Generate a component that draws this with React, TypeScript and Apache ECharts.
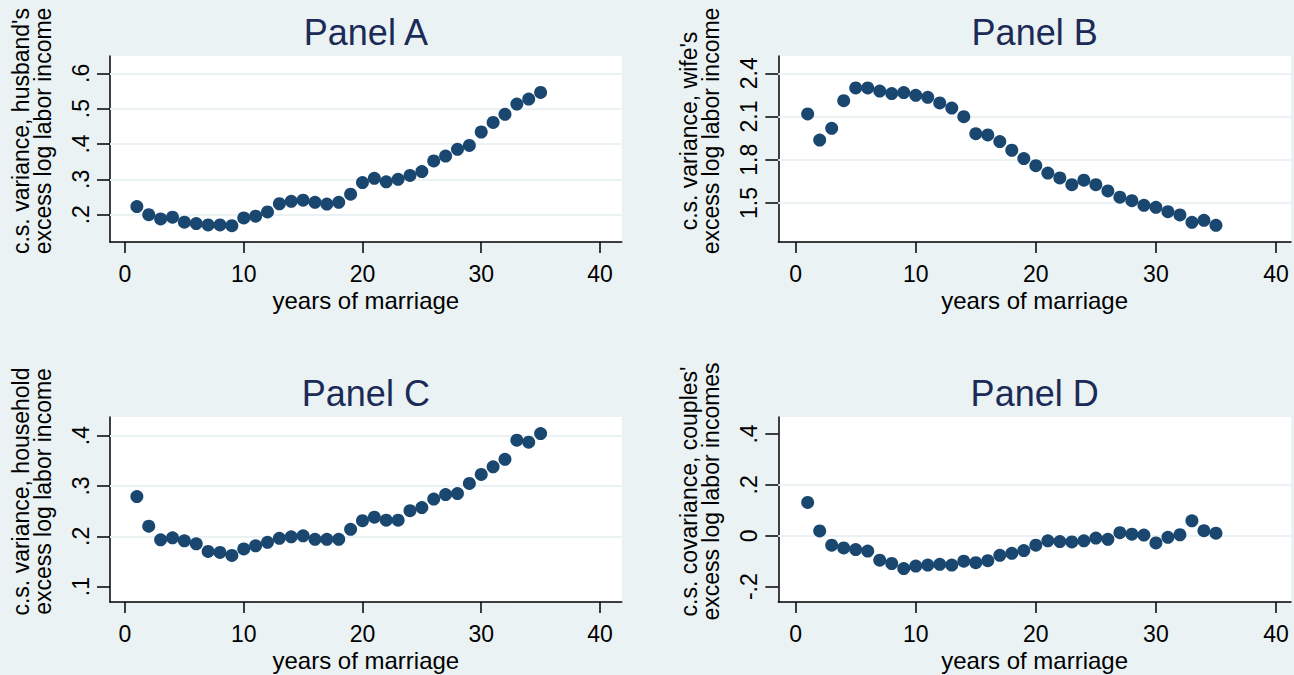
import React, { useEffect, useRef } from 'react';
import * as echarts from 'echarts';

const years = [1, 2, 3, 4, 5, 6, 7, 8, 9, 10, 11, 12, 13, 14, 15, 16, 17, 18, 19, 20, 21, 22, 23, 24, 25, 26, 27, 28, 29, 30, 31, 32, 33, 34, 35];

const husbandVar = [0.223, 0.2, 0.188, 0.193, 0.179, 0.175, 0.171, 0.171, 0.169, 0.191, 0.196, 0.208, 0.231, 0.238, 0.241, 0.235, 0.23, 0.235, 0.258, 0.291, 0.303, 0.293, 0.3, 0.311, 0.322, 0.352, 0.366, 0.385, 0.396, 0.434, 0.461, 0.484, 0.513, 0.527, 0.546];
const wifeVar = [2.118, 1.937, 2.018, 2.21, 2.298, 2.298, 2.277, 2.259, 2.266, 2.247, 2.233, 2.194, 2.159, 2.099, 1.981, 1.972, 1.926, 1.866, 1.808, 1.759, 1.708, 1.674, 1.627, 1.658, 1.627, 1.584, 1.54, 1.516, 1.484, 1.47, 1.44, 1.417, 1.366, 1.38, 1.345];
const householdVar = [0.279, 0.22, 0.193, 0.197, 0.191, 0.185, 0.17, 0.168, 0.162, 0.175, 0.181, 0.188, 0.196, 0.199, 0.201, 0.194, 0.194, 0.194, 0.214, 0.231, 0.238, 0.232, 0.232, 0.251, 0.257, 0.274, 0.283, 0.285, 0.305, 0.323, 0.338, 0.353, 0.391, 0.387, 0.404];
const couplesCov = [0.131, 0.019, -0.037, -0.048, -0.054, -0.06, -0.096, -0.109, -0.129, -0.119, -0.115, -0.112, -0.115, -0.1, -0.106, -0.098, -0.077, -0.069, -0.058, -0.037, -0.02, -0.023, -0.024, -0.02, -0.009, -0.014, 0.012, 0.006, 0.003, -0.028, -0.006, 0.004, 0.059, 0.02, 0.01];

const xTicks = [0, 10, 20, 30, 40];
const xTickLabels = ['0', '10', '20', '30', '40'];

const yTicksA = [0.2, 0.3, 0.4, 0.5, 0.6];
const yLabelsA = ['.2', '.3', '.4', '.5', '.6'];
const yGridA = [0.2, 0.3, 0.4, 0.5, 0.6];

const yTicksB = [1.5, 1.8, 2.1, 2.4];
const yLabelsB = ['1.5', '1.8', '2.1', '2.4'];
const yGridB = [1.5, 1.8, 2.1, 2.4];

const yTicksC = [0.1, 0.2, 0.3, 0.4];
const yLabelsC = ['.1', '.2', '.3', '.4'];
const yGridC = [0.2, 0.3, 0.4];

const yTicksD = [-0.2, 0, 0.2, 0.4];
const yLabelsD = ['-.2', '0', '.2', '.4'];
const yGridD = [0, 0.2];

const titles = ['Panel A', 'Panel B', 'Panel C', 'Panel D'];
const yNames = [
  "c.s. variance, husband's\nexcess log labor income",
  "c.s. variance, wife's\nexcess log labor income",
  'c.s. variance, household\nexcess log labor income',
  "c.s. covariance, couples'\nexcess log labor incomes",
];
const xName = 'years of marriage';

const FONT = '"Liberation Sans", Arial, Helvetica, sans-serif';
const BG = '#EAF2F3';
const MARKER = '#1A476F';
const TITLE_COLOR = '#1B2A57';

export default function App() {
  const ref = useRef<HTMLDivElement>(null);

  useEffect(() => {
    if (!ref.current) return;
    const chart = echarts.init(ref.current, null, { renderer: 'svg' });

    const panels = [
      { values: husbandVar, yTicks: yTicksA, yLabels: yLabelsA, yGrid: yGridA, yMin: 0.1228, yMax: 0.649, xMin: -1.263, xMax: 41.83, left: 110, top: 56, width: 511.7, height: 186 },
      { values: wifeVar, yTicks: yTicksB, yLabels: yLabelsB, yGrid: yGridB, yMin: 1.2293, yMax: 2.52, xMin: -1.446, xMax: 41.25, left: 778.3, top: 56, width: 512.7, height: 186 },
      { values: householdVar, yTicks: yTicksC, yLabels: yLabelsC, yGrid: yGridC, yMin: 0.0695, yMax: 0.437, xMin: -1.263, xMax: 41.83, left: 110, top: 417, width: 511.7, height: 185 },
      { values: couplesCov, yTicks: yTicksD, yLabels: yLabelsD, yGrid: yGridD, yMin: -0.2603, yMax: 0.4668, xMin: -1.446, xMax: 41.25, left: 778.3, top: 417, width: 512.7, height: 185 },
    ];

    const lookup = (ticks: number[], labels: string[]) => (v: number) => {
      for (let i = 0; i < ticks.length; i++) {
        if (Math.abs(ticks[i] - v) < 1e-9) return labels[i];
      }
      return '';
    };

    const axisLineStyle = { color: '#000', width: 1.5 };

    const option: any = {
      animation: false,
      backgroundColor: BG,
      grid: panels.map((p) => ({
        left: p.left,
        top: p.top,
        width: p.width,
        height: p.height,
        show: true,
        backgroundColor: '#fff',
        borderWidth: 0,
        containLabel: false,
      })),
      xAxis: panels.map((p, i) => ({
        type: 'value',
        gridIndex: i,
        min: p.xMin,
        max: p.xMax,
        name: xName,
        nameLocation: 'middle',
        nameGap: 46,
        nameTextStyle: { fontFamily: FONT, fontSize: 24, color: '#000' },
        axisLine: { show: true, onZero: false, lineStyle: axisLineStyle },
        axisTick: { show: true, length: 11, lineStyle: axisLineStyle, customValues: xTicks },
        axisLabel: {
          show: true,
          margin: 20,
          fontFamily: FONT,
          fontSize: 23,
          color: '#000',
          customValues: xTicks,
          formatter: lookup(xTicks, xTickLabels),
        },
        splitLine: { show: false },
      })),
      yAxis: panels.map((p, i) => ({
        type: 'value',
        gridIndex: i,
        min: p.yMin,
        max: p.yMax,
        name: yNames[i],
        nameLocation: 'middle',
        nameGap: 56,
        nameRotate: 90,
        nameTextStyle: {
          fontFamily: FONT,
          fontSize: 23,
          color: '#000',
          lineHeight: 22,
          align: 'center',
          padding: [0, 0, 0, 36],
        },
        axisLine: { show: true, onZero: false, lineStyle: axisLineStyle },
        axisTick: { show: true, length: 13, lineStyle: axisLineStyle, customValues: p.yTicks },
        axisLabel: {
          show: true,
          rotate: 90,
          margin: 18,
          fontFamily: FONT,
          fontSize: 23,
          color: '#000',
          customValues: p.yTicks,
          formatter: lookup(p.yTicks, p.yLabels),
        },
        splitLine: { show: false },
      })),
      series: panels.map((p, i) => ({
        type: 'scatter',
        xAxisIndex: i,
        yAxisIndex: i,
        symbol: 'circle',
        symbolSize: 13,
        itemStyle: { color: MARKER, opacity: 1 },
        emphasis: { disabled: true },
        silent: true,
        z: 3,
        data: years.map((x, j) => [x, p.values[j]]),
        markLine: {
          silent: true,
          z: 1,
          symbol: ['none', 'none'],
          label: { show: false },
          emphasis: { disabled: true },
          lineStyle: { color: BG, width: 1.8, type: 'solid' },
          data: p.yGrid.map((v) => ({ yAxis: v })),
        },
      })),
      graphic: panels.map((p, i) => ({
        type: 'text',
        x: p.left + p.width / 2,
        y: p.top - 24,
        style: {
          text: titles[i],
          fill: TITLE_COLOR,
          font: `36px ${FONT}`,
          textAlign: 'center',
          textVerticalAlign: 'middle',
        },
      })),
    };

    chart.setOption(option);
    return () => chart.dispose();
  }, []);

  return (
    <div
      ref={ref}
      style={{ position: 'fixed', left: 0, top: 0, width: 1294, height: 675 }}
    />
  );
}
